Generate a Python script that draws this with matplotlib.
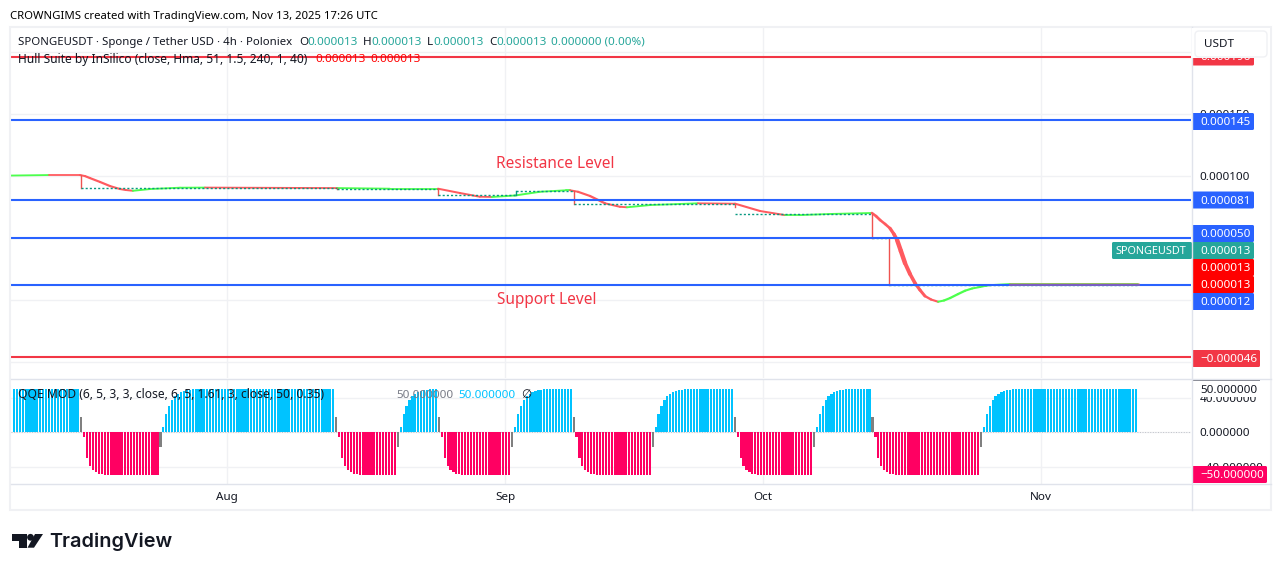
import matplotlib
matplotlib.use('Agg')
import matplotlib.pyplot as plt
from matplotlib.patches import Rectangle, FancyBboxPatch, Circle, Polygon

plt.rcParams['font.family'] = ['Noto Sans', 'DejaVu Sans']

# prices are in millionths of USDT, x is the bar number
month_pos = [72.7, 167.6, 255.6, 350.5]
month_names = ['Aug', 'Sep', 'Oct', 'Nov']
price_ticks = [200, 150, 100, 50, 0, -50]
price_shown = [150, 100]
qqe_ticks = [40, 0, -40]
red_levels = [196, -46]
blue_levels = [145, 81, 50, 12]

hull_x = [-1, 11.9, 22.5, 24.2, 25.9, 29.4, 32.8, 36.2, 38.2, 40.6, 46.4, 56.7, 65.2, 110.2, 128.3, 144.7,
          152.2, 159, 163.1, 171, 179.5, 188.4, 189.8, 192.5, 196.6, 201.7, 206.8, 209.2,
          217.1, 233.4, 246.1, 254.6, 263.1, 268.3, 278.5, 292.8, 294.2, 295.6, 297.3, 299, 300.3, 301.4,
          302.7, 304.1, 305.8, 307.5, 309.2, 310.9, 313, 315.4, 317.4, 319.5, 322.2, 324.6, 327, 329.7,
          331.7, 333.8, 339.9, 383.6]
hull_y = [100.4, 100.8, 100.8, 100, 98.4, 95.2, 91.9, 89.5, 88.7, 88.1, 89.5, 90.6, 90.7, 90.3, 89.8, 89.8,
          86.3, 83.3, 83.1, 84.3, 87.3, 88.5, 88.5, 87.3, 83.9, 78, 75.2, 74.8,
          76.6, 78, 77.7, 71.8, 68.5, 68.5, 69.4, 70.2, 67.7, 64.5, 61.3, 57.8, 53.2, 48.4,
          39.5, 29.8, 21, 13.7, 8.1, 3.2, 0.4, -1.4, -0.4, 1.6, 4.8, 7.5, 9.3, 10.5,
          11.5, 12.1, 12.9, 12.9]
# rising (1) or falling (0) for the piece that starts at each point
hull_up = [1, 0, 0, 0, 0, 0, 0, 0, 0, 1, 1, 1, 0, 1, 1, 0,
           0, 0, 1, 1, 1, 1, 0, 0, 0, 0, 0, 1,
           1, 0, 0, 0, 1, 1, 1, 0, 0, 0, 0, 0, 0, 0,
           0, 0, 0, 0, 0, 0, 0, 1, 1, 1, 1, 1, 1, 1,
           1, 1, 1]

step_x = [22.9, 22.9, 110.2, 144.7, 171.3, 191.1, 246.1, 292.8, 298.6, 383.6]
step_y = [100.8, 90.1, 89.5, 84.3, 87.9, 77.4, 69.1, 50.4, 12.1]
step_jump_end = [90.1, 89.5, 84.3, 87.9, 77.4, 74.8, 50.4, 12.1]

qqe_pink_start = [-5, -30, -39, -44, -46.5, -48.5, -49]
qqe_blue_start = [6, 21, 31, 37.5, 42, 45, 46.5, 48, 49, 49]
qqe_values = ([50] * 23 + [18]
              + qqe_pink_start + [-50] * 19 + [-17]
              + qqe_blue_start + [50] * 49 + [18]
              + qqe_pink_start + [-50] * 13 + [-17]
              + qqe_blue_start + [50] * 3 + [18]
              + qqe_pink_start + [-50] * 17 + [-17]
              + qqe_blue_start + [50] * 10 + [18]
              + qqe_pink_start + [-50] * 19 + [-17]
              + qqe_blue_start + [50] * 17 + [18]
              + qqe_pink_start + [-50] * 19 + [-17]
              + qqe_blue_start + [50] * 9 + [18]
              + qqe_pink_start + [-50] * 29 + [-17]
              + qqe_blue_start + [50] * 43)

W, H = 1281, 571
GRID = '#f0f1f4'
LINE = '#e0e3eb'
TXT = '#131722'
RED = '#f23645'
BLUE = '#2962ff'
TEAL = '#26a69a'


def px_axes(left, top, right, bottom, **kw):
    return fig.add_axes([left / W, 1 - bottom / H, (right - left) / W, (bottom - top) / H], **kw)


fig = plt.figure(figsize=(W / 100, H / 100), dpi=100, facecolor='white')
ax = px_axes(11, 27.5, 1191, 378)
ax2 = px_axes(11, 378.5, 1191, 483.5)

ax.set_xlim(-1, 401.7)
ax.set_ylim(-62.9, 219.8)
ax2.set_xlim(-1, 401.7)
ax2.set_ylim(-59.5, 62.6)

for a in (ax, ax2):
    a.set_xticks(month_pos)
    a.grid(True, color=GRID, lw=1)
    a.set_axisbelow(True)
    a.yaxis.tick_right()
    for s in a.spines.values():
        s.set_visible(False)
    a.tick_params(length=0, labelsize=8.4, labelcolor=TXT)

ax.tick_params(axis='x', labelbottom=False)
ax.set_yticks(price_ticks)
# the other price ticks sit behind the level labels
ax.set_yticklabels([f'{v / 1e6:.6f}' if v in price_shown else '' for v in price_ticks])
ax.tick_params(axis='y', pad=6.2)

ax2.set_xticks(month_pos)
ax2.set_xticklabels(month_names, fontweight='semibold')
ax2.tick_params(axis='x', pad=6)
ax2.set_yticks(qqe_ticks)
ax2.set_yticklabels([f'{v:.6f}'.replace('-', '\u2212') for v in qqe_ticks])
ax2.tick_params(axis='y', pad=6.2)

# levels
for v in red_levels:
    ax.axhline(v, color=RED, lw=1.5, zorder=2)
for v in blue_levels:
    ax.axhline(v, color=BLUE, lw=1.5, zorder=4)

# hull band, thicker where it moves fast
for i in range(len(hull_up)):
    slope = abs(hull_y[i + 1] - hull_y[i]) / (hull_x[i + 1] - hull_x[i])
    ax.plot(hull_x[i:i + 2], hull_y[i:i + 2], color='#4dff4d' if hull_up[i] else '#ff5a5f',
            lw=1.3 + min(slope * 0.3, 1.9), solid_capstyle='round', zorder=3)
ax.plot(hull_x[-2:], hull_y[-2:], color='#ff5a5f', lw=2.0, alpha=0.4, zorder=5)

# stop line
for i in range(len(step_y)):
    ax.plot(step_x[i:i + 2], [step_y[i], step_y[i]], color='#089981', lw=1,
            ls=(0, (1.5, 1.5)), zorder=3)
    if i < len(step_jump_end):
        col = '#ef5350' if step_y[i + 1] < step_y[i] else '#089981'
        ax.plot([step_x[i + 1], step_x[i + 1]], [step_y[i], step_jump_end[i]], color=col, lw=1, zorder=3)

# qqe histogram
qqe_x = list(range(len(qqe_values)))
colors = []
for v in qqe_values:
    if v == 18 or v == -17:
        colors.append('#808080')
    elif v > 0:
        colors.append('#00c3ff')
    else:
        colors.append('#ff0062')
ax2.bar(qqe_x, qqe_values, width=0.75, color=colors, linewidth=0, zorder=3)
ax2.axhline(0, color='#787b86', lw=0.7, ls=':', alpha=0.4, zorder=1)

# everything around the panes is drawn in pixel coordinates
ov = fig.add_axes([0, 0, 1, 1], zorder=5)
ov.set_xlim(0, W)
ov.set_ylim(H, 0)
ov.axis('off')
ov.patch.set_alpha(0)

ov.add_patch(Rectangle((10, 27), 1261, 483, fill=False, ec=GRID, lw=1.5))
ov.plot([1191.5, 1191.5], [27, 510], color=LINE, lw=1)
ov.plot([11, 1271], [378.5, 378.5], color=LINE, lw=1)
ov.plot([11, 1271], [483.5, 483.5], color=LINE, lw=1)


def badge(y, label, color, width=62, left=1192, h=17, pad=8, size=8.4):
    ov.add_patch(FancyBboxPatch((left, y - h / 2), width, h, boxstyle='round,pad=0,rounding_size=1.5',
                                fc=color, ec='none'))
    ov.text(left + pad, y + 1, label, color='white', fontsize=size, va='center', ha='left')


badge(57, '0.000196', RED)
badge(121.5, '0.000145', BLUE)
badge(200, '0.000081', BLUE)
badge(233.5, '0.000050', BLUE)
badge(250.5, '0.000013', TEAL)
badge(250.5, 'SPONGEUSDT', TEAL, width=80, left=1112, pad=4, size=7.85)
badge(267.5, '0.000013', '#ff0000')
badge(284.5, '0.000013', '#ff0000')
badge(301.5, '0.000012', BLUE)
badge(358.5, '\u22120.000046', RED, width=68)
badge(474.5, '\u221250.000000', '#ff0062', width=75)

# usdt button, it covers the top of the scale
ov.add_patch(Rectangle((1192, 28), 78, 30, fc='white', ec='none', zorder=4))
ov.add_patch(FancyBboxPatch((1195, 31), 72, 26, boxstyle='round,pad=0,rounding_size=4',
                            fc='white', ec=GRID, lw=1, zorder=5))
ov.text(1204, 44.5, 'USDT', color=TXT, fontsize=8.4, va='center', zorder=6)

# 50 label on the qqe scale
ov.add_patch(Rectangle((1192, 379), 68, 1.5, fc='#787b86', ec='none'))
ov.add_patch(Rectangle((1192, 381), 68, 15.5, fc='white', ec='none'))
ov.text(1200, 390.5, '50.000000', color=TXT, fontsize=8.4, va='center')


def row(y, parts, first_size=8.4):
    for i, (x, label, color) in enumerate(parts):
        ov.text(x, y + 1, label, color=color, fontsize=first_size if i == 0 else 8.4,
                va='center', ha='left')


ov.text(9.5, 16, 'CROWNGIMS created with TradingView.com, Nov 13, 2025 17:26 UTC',
        color='black', fontsize=8.15, va='center')
row(41.5, [(18, 'SPONGEUSDT \u00b7 Sponge / Tether USD \u00b7 4h \u00b7 Poloniex', TXT),
           (299.5, 'O', TXT), (307.5, '0.000013', TEAL),
           (363, 'H', TXT), (371, '0.000013', TEAL),
           (427, 'L', TXT), (433.5, '0.000013', TEAL),
           (489, 'C', TXT), (496, '0.000013', TEAL),
           (551, '0.000000 (0.00%)', TEAL)], first_size=8.2)
row(59, [(18, 'Hull Suite by InSilico (close, Hma, 51, 1.5, 240, 1, 40)', TXT),
         (315, '0.000013', '#ff0000'), (370.5, '0.000013', '#ff0000')], first_size=8.6)
row(394, [(18, 'QQE MOD (6, 5, 3, 3, close, 6, 5, 1.61, 3, close, 50, 0.35)', TXT),
          (396, '50.000000', '#787b86'), (458, '50.000000', '#00c3ff'),
          (521, '\u2205', TXT)], first_size=8.74)

ov.text(555, 164, 'Resistance Level', color=RED, fontsize=11.1, ha='center', va='center')
ov.text(547, 300, 'Support Level', color=RED, fontsize=11.1, ha='center', va='center')

# tradingview logo
ov.add_patch(Polygon([(12, 534), (26.6, 534), (26.6, 547.7), (18.5, 547.7), (18.5, 540.5), (12, 540.5)],
                     fc='#131722', ec='none'))
ov.add_patch(Circle((30.5, 537.3), 3.4, fc='#131722', ec='none'))
ov.add_patch(Polygon([(34, 547.7), (43, 534), (35, 534), (27.5, 547.7)], fc='#131722', ec='none'))
ov.text(49.5, 541.5, 'TradingView', color='#131722', fontsize=14.3, fontweight='semibold',
        family='Inter', va='center', ha='left')

fig.savefig('out.png', dpi=100)
